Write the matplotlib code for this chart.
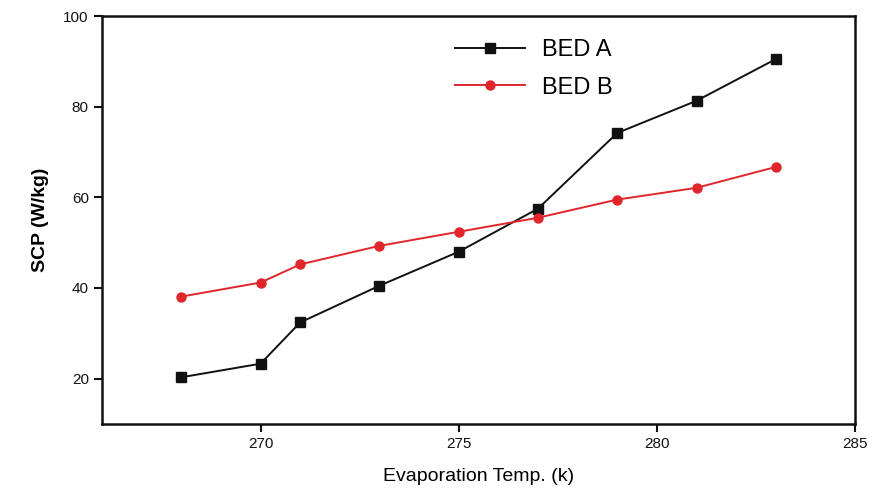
import matplotlib
matplotlib.use("Agg")
import matplotlib.pyplot as plt

evap_temp = [268, 270, 271, 273, 275, 277, 279, 281, 283]
scp_bed_a = [20.3, 23.3, 32.4, 40.5, 48.0, 57.5, 74.2, 81.3, 90.5]
scp_bed_b = [38.1, 41.2, 45.2, 49.3, 52.4, 55.5, 59.5, 62.1, 66.7]
x_ticks = [270, 275, 280, 285]
y_ticks = [20, 40, 60, 80, 100]

plt.rcParams["font.family"] = ["Liberation Sans", "DejaVu Sans"]

fig = plt.figure(figsize=(8.77, 4.93), dpi=100)
ax = fig.add_axes([0.1163, 0.14, 0.975 - 0.1163, 0.9675 - 0.14])

ax.plot(evap_temp, scp_bed_a, color="#111111", lw=1.4, marker="s", ms=6.5,
        label="BED A")
ax.plot(evap_temp, scp_bed_b, color="#e0262b", lw=1.4, marker="o", ms=6.5,
        label="BED B")

ax.set_xlim(266, 285)
ax.set_ylim(10, 100)
ax.set_xticks(x_ticks)
ax.set_yticks(y_ticks)
ax.tick_params(direction="out", length=6, width=1.5, labelsize=11, colors="#111111")
for side in ["left", "bottom", "top", "right"]:
    ax.spines[side].set_linewidth(1.8)
    ax.spines[side].set_color("#111111")

ax.set_xlabel("Evaporation Temp. (k)", fontsize=14, labelpad=12)
ax.set_ylabel("SCP (W/kg)", fontsize=14, labelpad=10, fontweight="bold")

ax.legend(loc="upper left", bbox_to_anchor=(0.44, 0.995), frameon=False,
          fontsize=17, handlelength=3, handletextpad=0.7, labelspacing=0.65)

fig.savefig("out.png", dpi=100)
